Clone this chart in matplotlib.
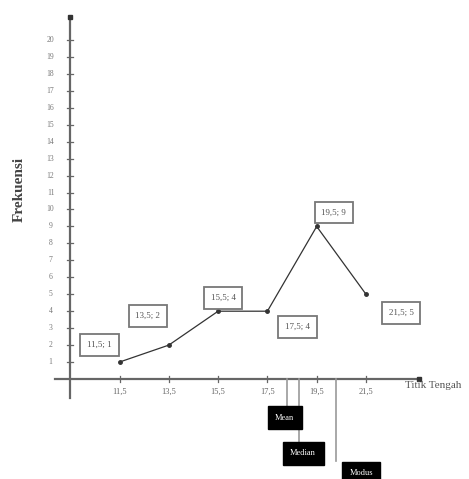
import matplotlib.pyplot as plt

plt.rcParams['font.family'] = ['Liberation Serif', 'DejaVu Serif']

# data
titik_tengah = [11.5, 13.5, 15.5, 17.5, 19.5, 21.5]
frekuensi = [1, 2, 4, 4, 9, 5]
tick_labels = ["11,5", "13,5", "15,5", "17,5", "19,5", "21,5"]
point_labels = ["11,5; 1", "13,5; 2", "15,5; 4", "17,5; 4", "19,5; 9", "21,5; 5"]
y_ticks = list(range(1, 21))

# where the three measures were marked (as drawn)
ukuran_names = ["Mean", "Median", "Modus"]
ukuran_values = [18.3, 18.8, 20.3]

# label box offsets in pixels from each point
label_offsets = [(-20, 17), (-21, 29), (5, 13), (30, -16), (17, 14), (35, -19)]

fig = plt.figure(figsize=(4.69, 4.79), dpi=100)
ax = fig.add_axes([0, 0, 1, 1])
ax.set_xlim(6.65, 25.68)
ax.set_ylim(-5.9, 22.36)
ax.axis('off')

axis_col = "#666666"
x0 = 9.5

# axes drawn by hand
ax.plot([8.9, 23.6], [0, 0], color=axis_col, lw=1.6)
ax.plot([x0, x0], [-1.15, 21.3], color=axis_col, lw=1.6)
ax.plot([23.65], [0], marker='s', color='#333333', ms=3.5)
ax.plot([x0], [21.35], marker='s', color='#333333', ms=3.5)

# y ticks
for t in y_ticks:
    ax.plot([x0 - 0.12, x0 + 0.12], [t, t], color=axis_col, lw=0.9)
    ax.text(x0 - 0.8, t, str(t), ha='center', va='center', fontsize=5.5, color='#777777')

# x ticks
for v, lab in zip(titik_tengah, tick_labels):
    ax.plot([v, v], [-0.15, 0.15], color=axis_col, lw=0.9)
    ax.text(v, -0.75, lab, ha='center', va='center', fontsize=6, color='#666666')

# polygon
ax.plot(titik_tengah, frekuensi, color='#333333', lw=0.9, marker='o', ms=2.5)

for v, f, lab, off in zip(titik_tengah, frekuensi, point_labels, label_offsets):
    ax.annotate(lab, (v, f), xytext=off, textcoords='offset pixels',
                ha='center', va='center', fontsize=6.5, color='#555555',
                bbox=dict(boxstyle='square,pad=0.75', fc='white', ec='#777777', lw=1.3))

# mean / median / modus markers
box_y = [-2.3, -4.37, -5.55]
line_end = [-1.7, -3.7, -4.85]
box_dx = [-0.1, 0.15, 1.0]
for name, v, by, le, dx in zip(ukuran_names, ukuran_values, box_y, line_end, box_dx):
    ax.plot([v, v], [0, le], color='#999999', lw=1.2)
    ax.text(v + dx, by, name, ha='center', va='center', fontsize=6, color='white',
            bbox=dict(boxstyle='square,pad=0.9', fc='black', ec='black'))

ax.text(7.45, 11.2, "Frekuensi", rotation=90, ha='center', va='center',
        fontsize=11, fontweight='bold', color='#444444')
ax.text(23.1, -0.4, "Titik Tengah", ha='left', va='center', fontsize=8, color='#555555')

fig.savefig("out.png", dpi=100)
